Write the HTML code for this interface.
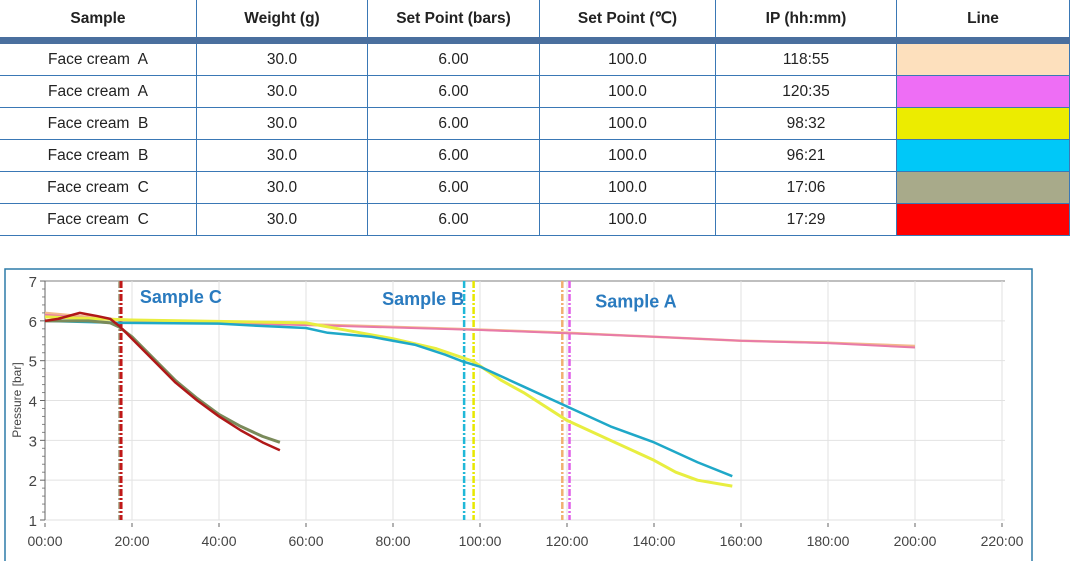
<!DOCTYPE html>
<html><head><meta charset="utf-8"><style>
body{margin:0;width:1080px;height:561px;background:#fff;overflow:hidden;font-family:"Liberation Sans",sans-serif}
table{position:absolute;left:0;top:0;border-collapse:collapse;width:1070px}
td,th{border:1.5px solid #3a78b5;text-align:center;font-size:15.5px;color:#222;padding:0;height:31px}
th{font-weight:bold;height:37px;border-top:none;border-bottom:7px solid #4a6f9e}
tr td:first-child,tr th:first-child{border-left:none}
</style></head><body>
<table>
<tr><th style="width:196px">Sample</th><th style="width:170px">Weight (g)</th><th style="width:171px">Set Point (bars)</th><th style="width:175px">Set Point (℃)</th><th style="width:180px">IP (hh:mm)</th><th>Line</th></tr>
<tr><td>Face cream&nbsp; A</td><td>30.0</td><td>6.00</td><td>100.0</td><td>118:55</td><td style="background:#fde0bd"></td></tr>
<tr><td>Face cream&nbsp; A</td><td>30.0</td><td>6.00</td><td>100.0</td><td>120:35</td><td style="background:#ee6ef5"></td></tr>
<tr><td>Face cream&nbsp; B</td><td>30.0</td><td>6.00</td><td>100.0</td><td>98:32</td><td style="background:#ecec00"></td></tr>
<tr><td>Face cream&nbsp; B</td><td>30.0</td><td>6.00</td><td>100.0</td><td>96:21</td><td style="background:#00c8f8"></td></tr>
<tr><td>Face cream&nbsp; C</td><td>30.0</td><td>6.00</td><td>100.0</td><td>17:06</td><td style="background:#a8aa8a"></td></tr>
<tr><td>Face cream&nbsp; C</td><td>30.0</td><td>6.00</td><td>100.0</td><td>17:29</td><td style="background:#ff0000"></td></tr>
</table>
<svg id="chart" width="1080" height="561" style="position:absolute;left:0;top:0" xmlns="http://www.w3.org/2000/svg"></svg>
<script>
const xTicks=[0,20,40,60,80,100,120,140,160,180,200,220];
const xTickLabels=["00:00","20:00","40:00","60:00","80:00","100:00","120:00","140:00","160:00","180:00","200:00","220:00"];
const yTicks=[1,2,3,4,5,6,7];
const redX=[0,3,8,12,15,17.3,20,25,30,35,40,45,50,54];
const redY=[6.0,6.05,6.2,6.12,6.05,5.85,5.55,5.0,4.45,4.0,3.6,3.25,2.95,2.75];
const oliveX=[0,5,10,15,17,20,25,30,35,40,45,50,54];
const oliveY=[6.0,6.0,6.0,5.95,5.85,5.6,5.05,4.5,4.05,3.65,3.35,3.1,2.95];
const cyanX=[0,17,40,50,60,65,75,85,92,96,100,110,120,130,140,150,158];
const cyanY=[6.0,5.95,5.93,5.87,5.82,5.7,5.6,5.4,5.15,4.98,4.85,4.35,3.85,3.35,2.95,2.45,2.1];
const yellowX=[0,20,60,70,80,90,98.5,105,110,120,130,140,145,150,158];
const yellowY=[6.1,6.02,5.95,5.75,5.55,5.3,4.98,4.5,4.2,3.5,3.0,2.5,2.2,2.0,1.85];
const peachX=[0,20,65,100,120,140,160,180,200];
const peachY=[6.2,6.0,5.9,5.78,5.7,5.6,5.5,5.45,5.37];
const magentaX=[0,20,65,100,120,140,160,180,200];
const magentaY=[6.15,6.0,5.88,5.77,5.69,5.6,5.5,5.44,5.33];
const ipTimes=[118.92,120.58,98.53,96.35,17.1,17.48];
const ipColors=["#f0b070","#e060e8","#e8e800","#20b8d8","#a8aa8a","#c01818"];
const labelNames=["Sample C","Sample B","Sample A"];
const labelX=[21.8,77.5,126.5];
const labelY=[6.45,6.4,6.33];

const svg=document.getElementById('chart');const NS="http://www.w3.org/2000/svg";
const X=v=>45+v*4.35, Y=v=>520-(v-1)*39.83;
function mk(t,a,p){const e=document.createElementNS(NS,t);for(const k in a)e.setAttribute(k,a[k]);(p||svg).appendChild(e);return e;}
let f=mk('rect',{x:5,y:269,width:1027,height:300,fill:'none',stroke:'#2d7ba8','stroke-width':1.5});


yTicks.forEach(v=>{let l=mk('line',{x1:45,x2:1005,y1:Y(v),y2:Y(v),stroke:v==7?'#aaa':'#e2e2e2','stroke-width':v==7?1.5:1});


let t=mk('text',{x:37,y:Y(v)+6,'text-anchor':'end','font-size':15,fill:'#444'});t.textContent=v;


mk('line',{x1:40,x2:45,y1:Y(v),y2:Y(v),stroke:'#666'});
if(v<7)for(let i=1;i<5;i++)mk('line',{x1:42,x2:45,y1:Y(v+i/5),y2:Y(v+i/5),stroke:'#888'});});
xTicks.forEach((v,i)=>{let l=mk('line',{x1:X(v),x2:X(v),y1:281,y2:520,stroke:'#e2e2e2'});


mk('line',{x1:X(v),x2:X(v),y1:523,y2:527,stroke:'#666'});
let t=mk('text',{x:X(v),y:546,'text-anchor':'middle','font-size':14,fill:'#444'});t.textContent=xTickLabels[i];

});
mk('line',{x1:45,x2:45,y1:281,y2:520,stroke:'#666'});
let yt=mk('text',{x:0,y:0,transform:'translate(21,400) rotate(-90)','text-anchor':'middle','font-size':12,fill:'#444'});yt.textContent='Pressure [bar]';


ipTimes.forEach((v,i)=>{let l=mk('line',{x1:X(v),x2:X(v),y1:281,y2:520,stroke:ipColors[i],'stroke-width':i==5?3:2.5,'stroke-dasharray':'7 2 2 2'});

});
function series(xs,ys,c,w,name){let d=xs.map((x,i)=>(i?'L':'M')+X(x)+','+Y(ys[i])).join('');
let p=mk('path',{d:d,fill:'none',stroke:c,'stroke-width':w,'stroke-linejoin':'round'});

}
series(peachX,peachY,'#f3b98c',2.5,'line-peach');
series(magentaX,magentaY,'#e87aa8',2,'line-magenta');
series(yellowX,yellowY,'#e8ee40',3,'line-yellow');
series(cyanX,cyanY,'#1fa8c8',2.5,'line-cyan');
series(oliveX,oliveY,'#7a8a5a',3,'line-olive');
series(redX,redY,'#b01818',2.5,'line-red');
labelNames.forEach((n,i)=>{let t=mk('text',{x:X(labelX[i]),y:Y(labelY[i]),'font-size':18,'font-weight':'bold',fill:'#2a7bbf'});t.textContent=n;

});
</script>
</body></html>
